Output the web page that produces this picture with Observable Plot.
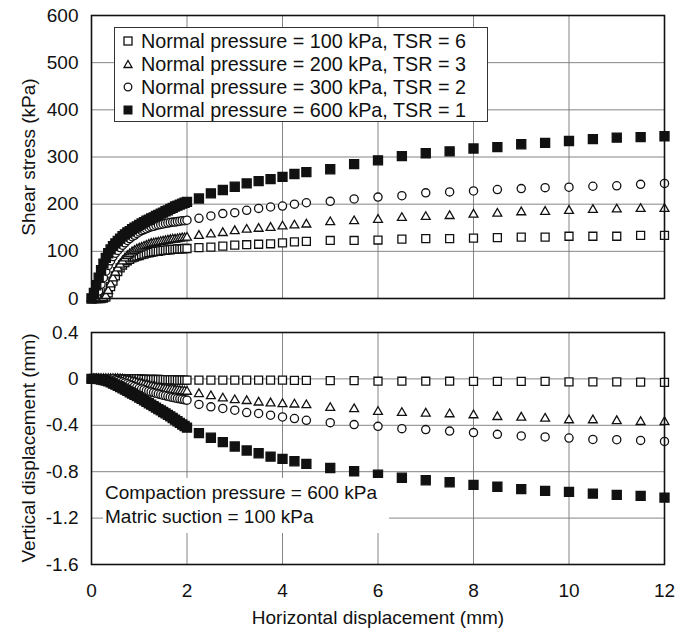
<!DOCTYPE html>
<html><head><meta charset="utf-8">
<script src="https://cdn.jsdelivr.net/npm/d3@7"></script>
<script src="https://cdn.jsdelivr.net/npm/@observablehq/plot@0.6"></script>
<style>
body{margin:0;background:#fff;}
#wrap{position:relative;width:683px;height:630px;font-family:"Liberation Sans",Arial,sans-serif;color:#111;overflow:hidden;}
#wrap svg{display:block;}
.ttl{position:absolute;font-size:19px;line-height:19px;white-space:nowrap;}
#legend{position:absolute;left:114px;top:27px;width:374px;height:95px;border:1px solid #333;background:#fff;font-size:19.8px;padding-top:2px;box-sizing:border-box;}
#legend .row{position:relative;height:23px;line-height:23px;padding-left:26px;white-space:nowrap;}
#legend .row svg{position:absolute;left:7px;top:5px;}
#note{position:absolute;left:103px;top:478px;width:286px;height:55px;background:#fff;font-size:19px;line-height:24px;padding:3px 0 0 2px;box-sizing:border-box;white-space:nowrap;}
</style></head><body><div id="wrap"></div>
<script>
// Horizontal displacement (mm)
const hdisp = [
  0,0.05,0.1,0.15,0.2,0.25,0.3,0.35,0.4,0.45,
  0.5,0.55,0.6,0.65,0.7,0.75,0.8,0.85,0.9,0.95,
  1,1.05,1.1,1.15,1.2,1.25,1.3,1.35,1.4,1.45,
  1.5,1.55,1.6,1.65,1.7,1.75,1.8,1.85,1.9,1.95,
  2,
  2.25,2.5,2.75,3,3.25,3.5,3.75,4,4.25,4.5,
  5,5.5,6,6.5,7,7.5,8,8.5,9,9.5,10,10.5,11,11.5,12];
// Shear stress (kPa)
const shear100 = [
  0,0,0,0,0,1,3,12,25,37,
  48,57,65,71,76,80,83,86,88,90,
  91,93,94,96,97,98,99,100,100,101,
  102,102,103,103,104,104,105,105,105,106,
  106,
  108,109,111,113,114,115,116,118,120,121,
  123,123,124,126,127,127,128,129,130,130,132,132,132,134,134];
const shear200 = [
  0,0,0,0,0,1,5,16,30,43,
  55,64,72,79,85,90,94,98,101,104,
  106,108,110,112,114,116,117,118,119,120,
  121,122,123,124,125,125,126,127,128,128,
  129,
  133,136,139,143,146,148,150,153,155,157,
  162,164,167,171,173,175,178,180,183,184,186,188,189,190,190];
const shear300 = [
  0,2,5,16,30,44,58,70,80,89,
  96,102,108,113,118,123,127,131,134,138,
  141,144,146,148,150,152,153,155,156,157,
  158,159,160,161,162,162,163,164,165,165,
  166,
  170,175,180,182,187,191,194,196,200,203,
  206,211,215,218,224,226,228,231,233,235,236,238,239,242,244];
const shear600 = [
  0,12,28,44,60,74,86,96,104,111,
  117,122,127,132,136,140,143,147,150,153,
  156,159,162,165,167,170,172,175,177,180,
  182,185,187,190,192,195,197,199,201,203,
  205,
  212,223,230,237,244,249,253,258,264,268,
  274,285,293,302,308,312,318,321,327,330,334,338,341,342,344];
// Vertical displacement (mm)
const vert100 = [
  0,0,0,0,0,0,0,0,0,0,
  0,0,0,0,0,0,0,0,0,0,
  0,-0.002,-0.003,-0.004,-0.005,-0.005,-0.005,-0.005,-0.005,-0.006,
  -0.007,-0.007,-0.008,-0.008,-0.008,-0.009,-0.01,-0.01,-0.01,-0.01,
  -0.01,
  -0.01,-0.01,-0.01,-0.01,-0.01,-0.01,-0.01,-0.01,-0.012,-0.012,
  -0.015,-0.015,-0.02,-0.02,-0.02,-0.02,-0.022,-0.022,-0.022,-0.022,-0.025,-0.025,-0.025,-0.028,-0.03];
const vert200 = [
  0,0,0,0,0,0,0,0,0,0,
  0,0,-0.003,-0.005,-0.008,-0.012,-0.017,-0.022,-0.028,-0.034,
  -0.04,-0.045,-0.05,-0.055,-0.06,-0.065,-0.07,-0.074,-0.078,-0.082,
  -0.085,-0.088,-0.09,-0.093,-0.095,-0.098,-0.1,-0.103,-0.105,-0.108,
  -0.11,
  -0.13,-0.148,-0.168,-0.183,-0.19,-0.203,-0.21,-0.217,-0.22,-0.226,
  -0.25,-0.26,-0.284,-0.293,-0.298,-0.304,-0.313,-0.328,-0.333,-0.342,-0.356,-0.356,-0.363,-0.371,-0.371];
const vert300 = [
  0,0,0,0,0,0,0,0,0,0,
  -0.008,-0.014,-0.02,-0.027,-0.035,-0.042,-0.05,-0.057,-0.065,-0.072,
  -0.08,-0.087,-0.093,-0.1,-0.106,-0.112,-0.118,-0.124,-0.13,-0.135,
  -0.14,-0.145,-0.15,-0.155,-0.16,-0.164,-0.168,-0.172,-0.176,-0.18,
  -0.183,
  -0.22,-0.241,-0.255,-0.27,-0.29,-0.298,-0.313,-0.328,-0.342,-0.357,
  -0.377,-0.394,-0.409,-0.429,-0.437,-0.45,-0.463,-0.478,-0.492,-0.5,-0.51,-0.522,-0.524,-0.53,-0.539];
const vert600 = [
  0,0,0,-0.002,-0.005,-0.01,-0.015,-0.022,-0.03,-0.04,
  -0.05,-0.06,-0.07,-0.081,-0.092,-0.103,-0.115,-0.126,-0.138,-0.149,
  -0.16,-0.172,-0.185,-0.197,-0.21,-0.222,-0.235,-0.247,-0.26,-0.272,
  -0.285,-0.297,-0.31,-0.323,-0.337,-0.351,-0.365,-0.379,-0.393,-0.406,
  -0.42,
  -0.467,-0.507,-0.545,-0.583,-0.617,-0.641,-0.67,-0.69,-0.71,-0.733,
  -0.768,-0.796,-0.826,-0.852,-0.874,-0.891,-0.913,-0.93,-0.95,-0.965,-0.974,-0.989,-1.0,-1.009,-1.023];

const seriesNames = ["Normal pressure = 100 kPa, TSR = 6","Normal pressure = 200 kPa, TSR = 3",
  "Normal pressure = 300 kPa, TSR = 2","Normal pressure = 600 kPa, TSR = 1"];
const xTicks = [0,2,4,6,8,10,12];
const shearTicks = [0,100,200,300,400,500,600];
const vertTicks = [-1.6,-1.2,-0.8,-0.4,0,0.4];
const xTitle = "Horizontal displacement (mm)";
const shearTitle = "Shear stress (kPa)";
const vertTitle = "Vertical displacement (mm)";
const noteLines = ["Compaction pressure = 600 kPa","Matric suction = 100 kPa"];

const symbols = ["square","triangle","circle","square"];
const fills = ["#fff","#fff","#fff","#111"];
const radii = [4.5,3.3,4.1,5.1];
const font = '"Liberation Sans",Arial,sans-serif';
const ink = "#111";

function dots(arrays){
  return arrays.map((arr,k)=>Plot.dot(arr.map((v,i)=>({x:hdisp[i], y:v})),
    {x:"x", y:"y", symbol:symbols[k], r:radii[k], fill:fills[k], stroke:ink, strokeWidth:1.3}));
}
const gridStyle = {stroke:"#777", strokeOpacity:1, strokeWidth:0.9};
const style = {fontFamily:font, fontSize:"19px", color:ink, background:"#fff", overflow:"visible"};

const topPlot = Plot.plot({
  width:683, height:310, marginLeft:91, marginRight:19, marginTop:15, marginBottom:12,
  style,
  x:{domain:[0,12], axis:null},
  y:{domain:[0,600]},
  marks:[
    Plot.gridX(xTicks, gridStyle),
    Plot.gridY(shearTicks, gridStyle),
    ...dots([shear100,shear200,shear300,shear600]),
    Plot.frame({stroke:ink, strokeWidth:1.6}),
    Plot.axisY(shearTicks, {tickSize:0, tickPadding:13, label:null, tickFormat:d=>String(d)})
  ]
});
const botPlot = Plot.plot({
  width:683, height:320, marginLeft:91, marginRight:19, marginTop:22, marginBottom:66,
  style,
  x:{domain:[0,12]},
  y:{domain:[-1.6,0.4]},
  marks:[
    Plot.gridX(xTicks, gridStyle),
    Plot.gridY(vertTicks, gridStyle),
    ...dots([vert100,vert200,vert300,vert600]),
    Plot.frame({stroke:ink, strokeWidth:1.6}),
    Plot.axisY(vertTicks, {tickSize:0, tickPadding:13, label:null, tickFormat:d=>String(d)}),
    Plot.axisX(xTicks, {tickSize:0, tickPadding:19, label:null, tickFormat:d=>String(d)})
  ]
});
const wrap = document.getElementById("wrap");
wrap.appendChild(topPlot);
wrap.appendChild(botPlot);

function addDiv(cls, text, css){
  const d = document.createElement("div");
  d.className = cls; d.textContent = text; Object.assign(d.style, css);
  wrap.appendChild(d); return d;
}
addDiv("ttl", shearTitle, {left:"28px", top:"157px", transform:"translate(-50%,-50%) rotate(-90deg)"});
addDiv("ttl", vertTitle, {left:"28px", top:"448px", transform:"translate(-50%,-50%) rotate(-90deg)"});
addDiv("ttl", xTitle, {left:"378px", top:"617px", transform:"translate(-50%,-50%)"});

// legend
const icons = [
  '<rect x="2" y="2" width="8" height="8" fill="#fff" stroke="#111" stroke-width="1.3"/>',
  '<path d="M6 2.5 L10 9.5 L2 9.5 Z" fill="#fff" stroke="#111" stroke-width="1.3"/>',
  '<circle cx="6" cy="6" r="3.8" fill="#fff" stroke="#111" stroke-width="1.3"/>',
  '<rect x="1.5" y="1.5" width="9" height="9" fill="#111"/>'
];
const leg = document.createElement("div"); leg.id = "legend";
seriesNames.forEach((name,k)=>{
  const row = document.createElement("div"); row.className = "row";
  row.innerHTML = `<svg width="12" height="12" viewBox="0 0 12 12">${icons[k]}</svg>`;
  row.appendChild(document.createTextNode(name));
  leg.appendChild(row);
});
wrap.appendChild(leg);

const note = document.createElement("div"); note.id = "note";
noteLines.forEach(t=>{ const l = document.createElement("div"); l.textContent = t; note.appendChild(l); });
wrap.appendChild(note);
</script></body></html>
